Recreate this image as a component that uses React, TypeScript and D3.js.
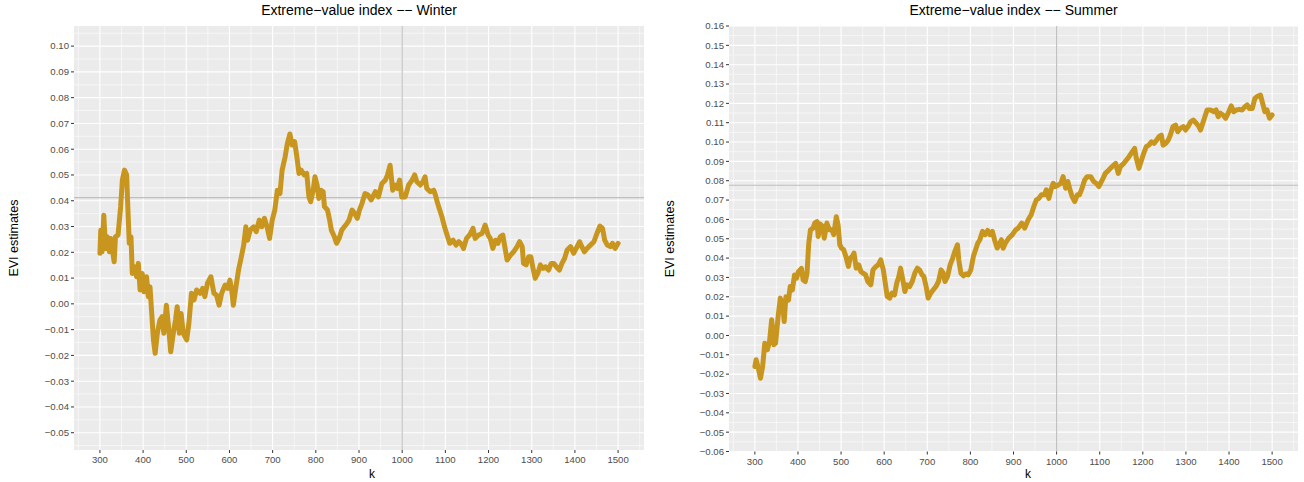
import React from "react"
import * as d3 from "d3"

// EVI estimates, k = number of top order statistics
const winterK = [300, 302, 305, 309, 313, 317, 322, 325, 333, 336, 342, 348, 352, 357, 362, 364, 368, 372, 375, 381, 385, 389, 393, 398, 402, 408, 412, 416, 420, 424, 428, 433, 439, 444, 448, 454, 459, 464, 470, 475, 479, 484, 488, 493, 501, 506, 512, 518, 524, 532, 538, 543, 549, 557, 564, 570, 576, 582, 590, 596, 601, 605, 609, 615, 621, 626, 633, 638, 642, 648, 656, 662, 669, 675, 681, 687, 693, 699, 705, 711, 717, 722, 729, 734, 740, 745, 751, 756, 761, 766, 773, 779, 784, 788, 794, 798, 803, 807, 812, 817, 820, 827, 832, 836, 843, 848, 854, 860, 866, 872, 877, 884, 890, 896, 901, 907, 914, 921, 928, 938, 945, 953, 961, 966, 972, 978, 984, 989, 994, 999, 1007, 1015, 1023, 1029, 1034, 1042, 1048, 1053, 1057, 1065, 1073, 1077, 1082, 1087, 1092, 1098, 1104, 1110, 1118, 1125, 1131, 1137, 1142, 1149, 1156, 1164, 1169, 1177, 1185, 1192, 1199, 1204, 1210, 1216, 1222, 1227, 1233, 1239, 1243, 1251, 1258, 1266, 1272, 1278, 1281, 1287, 1293, 1298, 1303, 1308, 1314, 1320, 1326, 1332, 1339, 1345, 1351, 1357, 1364, 1370, 1376, 1382, 1390, 1397, 1403, 1411, 1416, 1422, 1428, 1436, 1444, 1451, 1458, 1464, 1469, 1475, 1482, 1487, 1493, 1500]
const winterEvi = [0.0196, 0.0286, 0.0202, 0.0344, 0.0215, 0.026, 0.0202, 0.0254, 0.0163, 0.026, 0.0267, 0.0377, 0.048, 0.0519, 0.05, 0.0403, 0.0235, 0.026, 0.0118, 0.0144, 0.0105, 0.0157, 0.0054, 0.0118, 0.0047, 0.0105, 0.0028, 0.0066, -0.0037, -0.014, -0.0192, -0.0114, -0.0063, -0.005, -0.0114, -0.0005, -0.0089, -0.0186, -0.0114, -0.0063, -0.0011, -0.0114, -0.0037, -0.0114, -0.014, -0.0076, 0.0041, 0.0015, 0.0054, 0.0041, 0.006, 0.0028, 0.008, 0.0105, 0.0041, 0.0034, -0.0005, 0.0041, 0.0073, 0.006, 0.0092, 0.0054, -0.0005, 0.0066, 0.0131, 0.017, 0.0228, 0.0299, 0.0247, 0.0286, 0.0299, 0.028, 0.0325, 0.0299, 0.0332, 0.0299, 0.0254, 0.0325, 0.0364, 0.0441, 0.0428, 0.0519, 0.0571, 0.0622, 0.0659, 0.0616, 0.0629, 0.0571, 0.0506, 0.0519, 0.05, 0.0506, 0.0415, 0.0396, 0.0441, 0.0493, 0.0461, 0.0409, 0.0441, 0.0435, 0.0377, 0.0364, 0.0325, 0.0286, 0.026, 0.0235, 0.0254, 0.0286, 0.0299, 0.0312, 0.0325, 0.0364, 0.0351, 0.0332, 0.0364, 0.039, 0.0428, 0.0422, 0.0403, 0.0435, 0.0415, 0.0467, 0.048, 0.05, 0.0538, 0.0441, 0.0461, 0.0448, 0.048, 0.0415, 0.0415, 0.0461, 0.048, 0.05, 0.0474, 0.0461, 0.0474, 0.0493, 0.0448, 0.0435, 0.0441, 0.0422, 0.039, 0.0364, 0.0338, 0.0299, 0.0267, 0.0235, 0.0247, 0.0228, 0.0241, 0.0232, 0.0215, 0.0254, 0.0267, 0.0293, 0.0254, 0.0267, 0.0273, 0.0306, 0.0267, 0.0254, 0.0215, 0.0247, 0.0235, 0.026, 0.0267, 0.0209, 0.017, 0.0189, 0.0202, 0.0222, 0.0241, 0.0222, 0.0157, 0.0151, 0.0183, 0.0183, 0.0138, 0.0099, 0.0118, 0.0151, 0.0138, 0.0144, 0.0131, 0.0157, 0.0157, 0.0144, 0.0131, 0.0157, 0.0176, 0.0209, 0.0222, 0.0196, 0.0215, 0.0241, 0.0222, 0.0202, 0.0215, 0.0228, 0.0241, 0.0273, 0.0302, 0.0293, 0.0247, 0.0228, 0.0222, 0.0235, 0.0215, 0.0235]

const summerK = [300, 303, 309, 313, 318, 323, 329, 334, 339, 344, 348, 354, 359, 365, 368, 372, 378, 382, 387, 392, 397, 401, 408, 412, 417, 421, 425, 429, 435, 439, 444, 447, 451, 457, 461, 467, 473, 479, 483, 489, 493, 497, 501, 506, 511, 517, 521, 526, 530, 535, 541, 546, 551, 557, 562, 569, 574, 581, 586, 592, 598, 602, 607, 613, 618, 624, 629, 634, 638, 644, 648, 653, 659, 665, 671, 677, 682, 688, 692, 698, 702, 708, 714, 720, 726, 732, 737, 741, 747, 753, 759, 764, 770, 773, 778, 784, 789, 795, 801, 807, 812, 817, 822, 828, 834, 840, 845, 851, 856, 862, 867, 872, 876, 881, 889, 897, 905, 911, 919, 926, 934, 941, 947, 953, 959, 965, 972, 976, 982, 987, 992, 997, 1004, 1010, 1015, 1021, 1026, 1031, 1036, 1042, 1048, 1053, 1059, 1065, 1071, 1079, 1086, 1092, 1098, 1106, 1113, 1121, 1129, 1137, 1143, 1148, 1156, 1162, 1168, 1173, 1181, 1185, 1191, 1197, 1202, 1208, 1214, 1220, 1226, 1232, 1237, 1243, 1247, 1253, 1259, 1264, 1270, 1276, 1281, 1287, 1294, 1299, 1305, 1311, 1317, 1324, 1330, 1334, 1339, 1344, 1349, 1357, 1365, 1370, 1375, 1380, 1386, 1392, 1398, 1405, 1411, 1417, 1424, 1430, 1437, 1442, 1447, 1454, 1460, 1465, 1473, 1478, 1483, 1488, 1494, 1500]
const summerEvi = [-0.0161, -0.0126, -0.0178, -0.0221, -0.0161, -0.004, -0.0074, -0.0031, 0.0081, -0.0048, -0.004, 0.0098, 0.0193, 0.015, 0.0072, 0.02, 0.0183, 0.0253, 0.0236, 0.0313, 0.0296, 0.033, 0.0347, 0.0287, 0.0279, 0.0322, 0.0477, 0.0546, 0.0555, 0.0581, 0.0589, 0.0512, 0.0577, 0.0564, 0.0503, 0.0581, 0.0546, 0.0546, 0.0521, 0.0614, 0.0572, 0.0469, 0.0452, 0.0443, 0.0409, 0.0357, 0.04, 0.0409, 0.0426, 0.0348, 0.0365, 0.033, 0.0322, 0.0313, 0.0279, 0.0262, 0.0339, 0.0357, 0.0365, 0.0391, 0.0339, 0.0279, 0.0202, 0.0193, 0.0219, 0.021, 0.027, 0.0305, 0.0348, 0.0279, 0.0227, 0.0262, 0.0253, 0.0279, 0.0322, 0.0348, 0.0339, 0.0313, 0.0305, 0.0245, 0.0193, 0.0219, 0.0236, 0.0253, 0.0279, 0.0339, 0.0322, 0.0279, 0.0305, 0.0365, 0.04, 0.0435, 0.0469, 0.0391, 0.0322, 0.0308, 0.0318, 0.0313, 0.0339, 0.0409, 0.0443, 0.0477, 0.0495, 0.0538, 0.0521, 0.0543, 0.0521, 0.0538, 0.0495, 0.0452, 0.0469, 0.0495, 0.0451, 0.0477, 0.0503, 0.052, 0.0546, 0.0555, 0.0581, 0.0555, 0.0598, 0.0624, 0.0666, 0.0701, 0.0709, 0.0727, 0.0727, 0.0753, 0.0709, 0.0753, 0.0787, 0.077, 0.0778, 0.0787, 0.0821, 0.0761, 0.0796, 0.0753, 0.0718, 0.0692, 0.0727, 0.0727, 0.0761, 0.0804, 0.0821, 0.0821, 0.0796, 0.0787, 0.077, 0.0804, 0.0838, 0.0855, 0.0873, 0.089, 0.0838, 0.0873, 0.089, 0.0907, 0.0924, 0.0941, 0.0967, 0.0915, 0.0864, 0.0907, 0.0941, 0.0976, 0.0984, 0.1001, 0.0993, 0.101, 0.1027, 0.1036, 0.0984, 0.0993, 0.101, 0.1036, 0.108, 0.1088, 0.1053, 0.1071, 0.108, 0.1062, 0.108, 0.1105, 0.1114, 0.1097, 0.108, 0.1062, 0.1097, 0.1131, 0.1166, 0.1166, 0.1157, 0.1166, 0.1131, 0.1149, 0.114, 0.1123, 0.1149, 0.1187, 0.1157, 0.1166, 0.1169, 0.1166, 0.1183, 0.1192, 0.1174, 0.1174, 0.1226, 0.1235, 0.1243, 0.12, 0.1157, 0.1166, 0.1123, 0.114]

const kTicks = [300, 400, 500, 600, 700, 800, 900, 1000, 1100, 1200, 1300, 1400, 1500]
const winterTicks = [-0.05, -0.04, -0.03, -0.02, -0.01, 0, 0.01, 0.02, 0.03, 0.04, 0.05, 0.06, 0.07, 0.08, 0.09, 0.1]
const summerTicks = [-0.06, -0.05, -0.04, -0.03, -0.02, -0.01, 0, 0.01, 0.02, 0.03, 0.04, 0.05, 0.06, 0.07, 0.08, 0.09, 0.1, 0.11, 0.12, 0.13, 0.14, 0.15, 0.16]
const winterRef = 0.0412
const summerRef = 0.0777
const kRef = 1000

const FONT = "'Liberation Sans', Arial, sans-serif"
const LINE = "#C8961E"

type PanelProps = {
	title: string
	ks: number[]
	evi: number[]
	yTicks: number[]
	yDomain: [number, number]
	refY: number
	left: number
	right: number
	top: number
	bottom: number
	yTitleX: number
	kLabelX: number
}

const fmt = (v: number) => d3.format(".2f")(v).replace("-", "\u2212")

const Panel = ({ title, ks, evi, yTicks, yDomain, refY, left, right, top, bottom, yTitleX, kLabelX }: PanelProps) => {
	const x = d3.scaleLinear().domain([240, 1560]).range([left, right])
	const y = d3.scaleLinear().domain(yDomain).range([bottom, top])

	// minor gridlines half way between majors
	const yMinor = yTicks.slice(0, -1).map((t, i) => (t + yTicks[i + 1]) / 2)
	const yStep = yTicks[1] - yTicks[0]
	if (y(yTicks[0] - yStep / 2) <= bottom) yMinor.unshift(yTicks[0] - yStep / 2)
	if (y(yTicks[yTicks.length - 1] + yStep / 2) >= top) yMinor.push(yTicks[yTicks.length - 1] + yStep / 2)
	const kMinor = [250, ...kTicks.map(k => k + 50)]

	const path = d3.line<number>()
		.x((_, i) => x(ks[i]))
		.y(d => y(d))(evi)

	const midY = (top + bottom) / 2

	return (
		<g fontFamily={FONT}>
			<rect x={left} y={top} width={right - left} height={bottom - top} fill="#EBEBEB" />
			{yMinor.map(v => (
				<line key={"ym" + v} x1={left} x2={right} y1={y(v)} y2={y(v)} stroke="#fff" strokeWidth={0.55} />
			))}
			{kMinor.map(k => (
				<line key={"xm" + k} x1={x(k)} x2={x(k)} y1={top} y2={bottom} stroke="#fff" strokeWidth={0.55} />
			))}
			{yTicks.map(v => (
				<line key={"y" + v} x1={left} x2={right} y1={y(v)} y2={y(v)} stroke="#fff" strokeWidth={1.1} />
			))}
			{kTicks.map(k => (
				<line key={"x" + k} x1={x(k)} x2={x(k)} y1={top} y2={bottom} stroke="#fff" strokeWidth={1.1} />
			))}
			<line x1={left} x2={right} y1={y(refY)} y2={y(refY)} stroke="#BEBEBE" strokeWidth={1.1} />
			<line x1={x(kRef)} x2={x(kRef)} y1={top} y2={bottom} stroke="#BEBEBE" strokeWidth={1.1} />
			<path d={path ?? ""} fill="none" stroke={LINE} strokeWidth={5} strokeLinejoin="round" strokeLinecap="round" />

			{yTicks.map(v => (
				<g key={"yl" + v}>
					<line x1={left - 3} x2={left} y1={y(v)} y2={y(v)} stroke="#333" strokeWidth={1} />
					<text x={left - 5} y={y(v)} dy="0.35em" textAnchor="end" fontSize={9.6} fill="#4D4D4D">{fmt(v)}</text>
				</g>
			))}
			{kTicks.map(k => (
				<g key={"xl" + k}>
					<line x1={x(k)} x2={x(k)} y1={bottom} y2={bottom + 3} stroke="#333" strokeWidth={1} />
					<text x={x(k)} y={bottom + 13} textAnchor="middle" fontSize={9.6} fill="#4D4D4D">{k}</text>
				</g>
			))}
			<text x={(left + right) / 2} y={15} textAnchor="middle" fontSize={14} fill="#000">{title}</text>
			<text x={kLabelX} y={478} textAnchor="middle" fontSize={12} fill="#000">k</text>
			<text transform={`translate(${yTitleX},${midY}) rotate(-90)`} textAnchor="middle" fontSize={12.5} fill="#000">EVI estimates</text>
		</g>
	)
}

export default function App() {
	return (
		<svg width={1304} height={482} style={{ position: "absolute", left: 0, top: 0, background: "#fff" }}>
			<Panel
				title={"Extreme\u2212value index \u2212\u2212 Winter"}
				ks={winterK}
				evi={winterEvi}
				yTicks={winterTicks}
				yDomain={[-0.0567, 0.1078]}
				refY={winterRef}
				left={74}
				right={644}
				top={26}
				bottom={450}
				yTitleX={18}
				kLabelX={372}
			/>
			<Panel
				title={"Extreme\u2212value index \u2212\u2212 Summer"}
				ks={summerK}
				evi={summerEvi}
				yTicks={summerTicks}
				yDomain={[-0.06, 0.16]}
				refY={summerRef}
				left={729}
				right={1298}
				top={26}
				bottom={451.5}
				yTitleX={674}
				kLabelX={1028}
			/>
		</svg>
	)
}
